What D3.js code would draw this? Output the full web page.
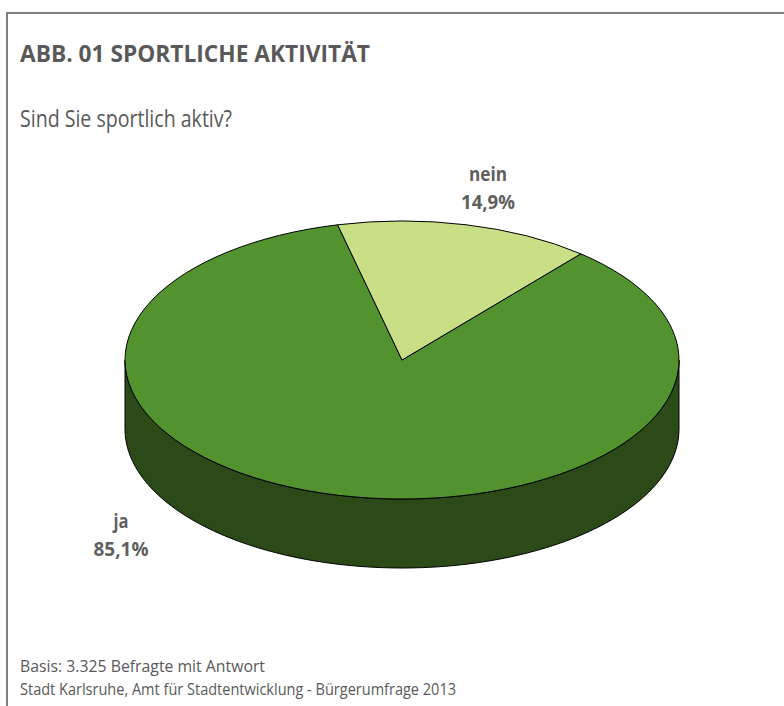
<!DOCTYPE html>
<html>
<head>
<meta charset="utf-8">
<script src="https://cdn.jsdelivr.net/npm/d3@7"></script>
<style>
  html, body { margin: 0; padding: 0; background: #fff; }
  svg { display: block; font-family: "Open Sans", sans-serif; }
</style>
</head>
<body>
<svg id="chart" width="784" height="706"></svg>
<script>
// Daten
var categories = ["ja", "nein"];
var values = [85.1, 14.9];
var labels = ["85,1%", "14,9%"];
var topColors = ["#53932f", "#c9df85"];
var sideColors = ["#2c4a18", "#7f9a45"];

var svg = d3.select("#chart"),
    cx = 402, cy = 360,
    rx = 277, ry = 139,
    depth = 69;

// Text mit fester Breite (Originalschrift ist schmal laufend)
function addText(x, y, size, weight, width, str) {
    return svg.append("text")
        .attr("x", x).attr("y", y)
        .attr("font-size", size).attr("font-weight", weight)
        .attr("fill", "#595959")
        .attr("textLength", width)
        .attr("lengthAdjust", "spacingAndGlyphs")
        .text(str);
}

// Rahmen
svg.append("rect")
    .attr("x", 7).attr("y", 13)
    .attr("width", 800).attr("height", 720)
    .attr("fill", "none")
    .attr("stroke", "#7f7f7f")
    .attr("stroke-width", 2);

addText(20, 62, 24, "bold", 350, "ABB. 01 SPORTLICHE AKTIVITÄT");
addText(20, 127, 23, "normal", 212, "Sind Sie sportlich aktiv?");

// Tortenwinkel
var pie = d3.pie().sort(null).value(function (d) { return d; })
    .startAngle(40.2 * Math.PI / 180)
    .endAngle(40.2 * Math.PI / 180 + 2 * Math.PI);
var arcs = pie(values);

function px(a) { return cx + rx * Math.sin(a); }
function py(a) { return cy - ry * Math.cos(a); }

// Seitenwand (nur vorderer Teil sichtbar)
var line = d3.line();
arcs.forEach(function (d, i) {
    [0, 2 * Math.PI].forEach(function (off) {
        var a0 = Math.max(d.startAngle, Math.PI / 2 + off),
            a1 = Math.min(d.endAngle, 3 * Math.PI / 2 + off);
        if (a1 <= a0) return;
        var n = 80, pts = [];
        for (var k = 0; k <= n; k++) {
            var a = a0 + (a1 - a0) * k / n;
            pts.push([px(a), py(a)]);
        }
        for (var k = n; k >= 0; k--) {
            var a = a0 + (a1 - a0) * k / n;
            pts.push([px(a), py(a) + depth]);
        }
        svg.append("path")
            .attr("d", line(pts) + "Z")
            .attr("fill", sideColors[i])
            .attr("stroke", "#000")
            .attr("stroke-width", 1);
    });
});

// Oberseite
var arc = d3.arc().innerRadius(0).outerRadius(rx);
svg.append("g")
    .attr("transform", "translate(" + cx + "," + cy + ") scale(1," + (ry / rx) + ")")
    .selectAll("path")
    .data(arcs)
    .enter().append("path")
    .attr("d", arc)
    .attr("fill", function (d, i) { return topColors[i]; })
    .attr("stroke", "#000")
    .attr("stroke-width", 1)
    .attr("vector-effect", "non-scaling-stroke");

// Beschriftungen
var labelPos = [[121, 528], [488, 181]];
var labelWidths = [[15, 55], [38, 54]];
arcs.forEach(function (d, i) {
    var t = svg.append("text")
        .attr("text-anchor", "middle")
        .attr("font-size", 20).attr("font-weight", "bold")
        .attr("fill", "#5f5f5f");
    t.append("tspan").attr("x", labelPos[i][0]).attr("y", labelPos[i][1])
        .attr("textLength", labelWidths[i][0]).attr("lengthAdjust", "spacingAndGlyphs")
        .text(categories[i]);
    t.append("tspan").attr("x", labelPos[i][0]).attr("y", labelPos[i][1] + 28)
        .attr("textLength", labelWidths[i][1]).attr("lengthAdjust", "spacingAndGlyphs")
        .text(labels[i]);
});

addText(20, 672, 17, "normal", 245, "Basis: 3.325 Befragte mit Antwort");
addText(20, 695, 17, "normal", 436, "Stadt Karlsruhe, Amt für Stadtentwicklung - Bürgerumfrage 2013");
</script>
</body>
</html>
